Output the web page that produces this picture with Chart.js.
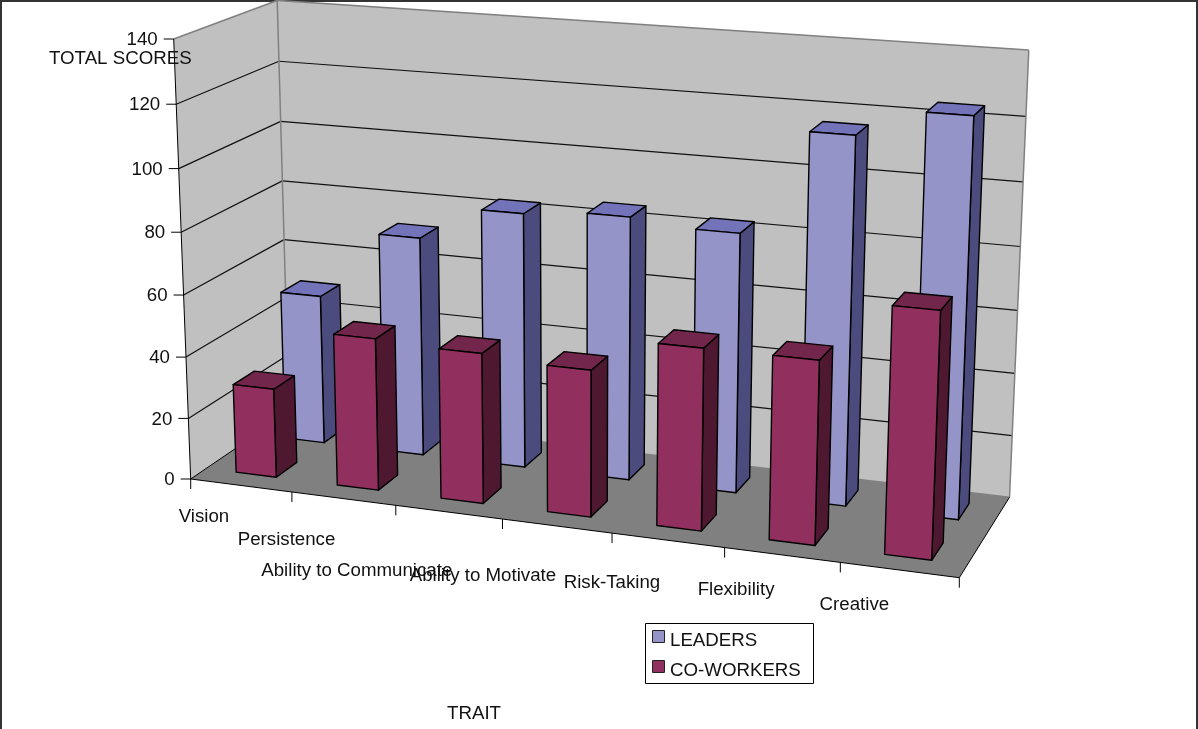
<!DOCTYPE html>
<html>
<head>
<meta charset="utf-8">
<title>Total scores by trait</title>
<script src="https://cdn.jsdelivr.net/npm/chart.js@4/dist/chart.umd.min.js"></script>
<style>
  html, body { margin: 0; padding: 0; background: #fff; }
  canvas { display: block; }
</style>
</head>
<body>
<canvas id="trait-chart" width="1198" height="729"></canvas>
<script>
const traits = ['Vision', 'Persistence', 'Ability to Communicate', 'Ability to Motivate', 'Risk-Taking', 'Flexibility', 'Creative'];
const leaders = [49.5, 72, 83, 85, 83, 116, 124.5];
const coWorkers = [29, 49, 48, 46.5, 57, 57, 75.5];
const yMax = 140;
const yStep = 20;

// Box corners on screen: origin, end of x axis, top of y axis, back of floor
const O = [190.7, 479];
const X = [959.3, 577.7];
const Y = [173.7, 39];
const Z = [289, 412];
// Perspective weights along each box axis
const PW = { x: 0.91, y: 0.958, z: 1.073 };

// Depth span of each bar row inside the box
const ROW_BACK = [0.65, 0.86];
const ROW_FRONT = [0.15, 0.36];

// Offsets of the category labels from the middle of their slot on the front edge
const LABEL_DX = [-37, -57, -92, -74, -56, -46, -45];
const LABEL_DY = [31, 41, 59, 50, 43, 35, 35];

const FONT = '18.7px "Liberation Sans", Arial, sans-serif';
const TEXT = '#111';
const WALL = '#c0c0c0';
const FLOOR = '#808080';
const EDGE = '#808080';
const BLUE = { front: '#9494c8', side: '#4b4b7d', top: '#7373ba' };
const RED = { front: '#91305f', side: '#4e1830', top: '#73264b' };

function project(x, y, z) {
    const w = 1 + x * (PW.x - 1) + y * (PW.y - 1) + z * (PW.z - 1);
    const sx = O[0] + x * (PW.x * X[0] - O[0]) + y * (PW.y * Y[0] - O[0]) + z * (PW.z * Z[0] - O[0]);
    const sy = O[1] + x * (PW.x * X[1] - O[1]) + y * (PW.y * Y[1] - O[1]) + z * (PW.z * Z[1] - O[1]);
    return [sx / w, sy / w];
}

function poly(ctx, pts, fill, stroke, lineWidth) {
    ctx.beginPath();
    pts.forEach((p, i) => i ? ctx.lineTo(p[0], p[1]) : ctx.moveTo(p[0], p[1]));
    ctx.closePath();
    if (fill) {
        ctx.fillStyle = fill;
        ctx.fill();
    }
    if (stroke) {
        ctx.strokeStyle = stroke;
        ctx.lineWidth = lineWidth;
        ctx.stroke();
    }
}

function line(ctx, a, b, color, lineWidth) {
    ctx.beginPath();
    ctx.moveTo(a[0], a[1]);
    ctx.lineTo(b[0], b[1]);
    ctx.strokeStyle = color;
    ctx.lineWidth = lineWidth;
    ctx.stroke();
}

function drawWalls(ctx, chart) {
    poly(ctx, [project(0, 0, 0), project(0, 1, 0), project(0, 1, 1), project(0, 0, 1)], WALL);
    poly(ctx, [project(0, 0, 1), project(0, 1, 1), project(1, 1, 1), project(1, 0, 1)], WALL);
    poly(ctx, [project(0, 0, 0), project(0, 0, 1), project(1, 0, 1), project(1, 0, 0)], FLOOR);

    const yScale = chart.scales.y;
    const area = chart.chartArea;
    yScale.ticks.forEach(t => {
        if (t.value === 0 || t.value === yMax) return;
        const v = (area.bottom - yScale.getPixelForValue(t.value)) / area.height;
        line(ctx, project(0, v, 0), project(0, v, 1), '#111', 1.2);
        line(ctx, project(0, v, 1), project(1, v, 1), '#111', 1.2);
    });

    line(ctx, project(0, 1, 0), project(0, 1, 1), EDGE, 1.5);
    line(ctx, project(0, 1, 1), project(1, 1, 1), EDGE, 1.5);
    line(ctx, project(0, 0, 1), project(0, 1, 1), EDGE, 1.5);
    line(ctx, project(1, 0, 1), project(1, 1, 1), EDGE, 1.5);
    line(ctx, project(0, 0, 1), project(1, 0, 1), EDGE, 1.5);
    line(ctx, project(0, 0, 0), project(0, 0, 1), '#000', 1);
    line(ctx, project(1, 0, 0), project(1, 0, 1), '#000', 1);
}

function drawAxes(ctx, chart) {
    const yScale = chart.scales.y;
    const xScale = chart.scales.x;
    const area = chart.chartArea;

    ctx.font = FONT;
    ctx.fillStyle = TEXT;

    // value axis runs up the front edge of the left wall
    line(ctx, project(0, 0, 0), project(0, 1, 0), '#000', 1);
    ctx.textAlign = 'right';
    ctx.textBaseline = 'middle';
    yScale.ticks.forEach(t => {
        const v = (area.bottom - yScale.getPixelForValue(t.value)) / area.height;
        const p = project(0, v, 0);
        line(ctx, [p[0] - 10, p[1]], p, '#000', 1);
        ctx.fillStyle = TEXT;
        ctx.fillText(t.label, p[0] - 16, p[1] + 1);
    });

    // category axis runs along the front of the floor
    line(ctx, project(0, 0, 0), project(1, 0, 0), '#000', 1);
    const step = area.width / traits.length;
    for (let i = 0; i <= traits.length; i++) {
        const p = project(i * step / area.width, 0, 0);
        line(ctx, p, [p[0], p[1] + 10], '#000', 1);
    }
    ctx.textAlign = 'center';
    ctx.textBaseline = 'middle';
    traits.forEach((name, i) => {
        const p = project((xScale.getPixelForValue(i) - area.left) / area.width, 0, 0);
        ctx.fillStyle = TEXT;
        ctx.fillText(name, p[0] + LABEL_DX[i], p[1] + LABEL_DY[i]);
    });

    ctx.textAlign = 'left';
    ctx.fillText('TOTAL SCORES', 49, 59);
    ctx.fillText('TRAIT', 447, 714);
}

// Each bar element already holds its scaled x, top and base, so they only need projecting
function drawBox(ctx, bar, area, row, colors) {
    const x0 = (bar.x - bar.width / 2 - area.left) / area.width;
    const x1 = (bar.x + bar.width / 2 - area.left) / area.width;
    const y0 = (area.bottom - bar.base) / area.height;
    const y1 = (area.bottom - bar.y) / area.height;
    const [z0, z1] = row;
    const lw = 1.4;
    poly(ctx, [project(x1, y0, z0), project(x1, y1, z0), project(x1, y1, z1), project(x1, y0, z1)], colors.side, '#000', lw);
    poly(ctx, [project(x0, y1, z0), project(x0, y1, z1), project(x1, y1, z1), project(x1, y1, z0)], colors.top, '#000', lw);
    poly(ctx, [project(x0, y0, z0), project(x0, y1, z0), project(x1, y1, z0), project(x1, y0, z0)], colors.front, '#000', lw);
}

function drawLegend(ctx, chart) {
    ctx.fillStyle = '#fff';
    ctx.fillRect(645.5, 623.5, 168, 60);
    ctx.strokeStyle = '#000';
    ctx.lineWidth = 1;
    ctx.strokeRect(645.5, 623.5, 168, 60);
    const rows = [639, 669];
    ctx.font = FONT;
    ctx.textAlign = 'left';
    ctx.textBaseline = 'middle';
    chart.data.datasets.forEach((ds, i) => {
        ctx.fillStyle = ds.backgroundColor;
        ctx.fillRect(653, rows[i] - 8, 11, 11);
        ctx.strokeStyle = '#222';
        ctx.strokeRect(652.5, rows[i] - 8.5, 12, 12);
        ctx.fillStyle = TEXT;
        ctx.fillText(ds.label, 670, rows[i] + 2);
    });
}

const boxPlugin = {
    id: 'box3d',
    beforeDatasetsDraw(chart) {
        const ctx = chart.ctx;
        const area = chart.chartArea;
        ctx.save();
        ctx.lineJoin = 'round';
        ctx.fillStyle = '#fff';
        ctx.fillRect(0, 0, chart.width, chart.height);
        ctx.strokeStyle = '#333';
        ctx.lineWidth = 4;
        ctx.strokeRect(0, 0, chart.width, chart.height + 4);

        drawWalls(ctx, chart);
        chart.getDatasetMeta(0).data.forEach(bar => drawBox(ctx, bar, area, ROW_BACK, BLUE));
        chart.getDatasetMeta(1).data.forEach(bar => drawBox(ctx, bar, area, ROW_FRONT, RED));
        drawAxes(ctx, chart);
        drawLegend(ctx, chart);
        ctx.restore();
        return false;
    }
};

new Chart(document.getElementById('trait-chart'), {
    type: 'bar',
    data: {
        labels: traits,
        datasets: [
            { label: 'LEADERS', data: leaders, backgroundColor: BLUE.front, grouped: false },
            { label: 'CO-WORKERS', data: coWorkers, backgroundColor: RED.front, grouped: false }
        ]
    },
    options: {
        responsive: false,
        animation: false,
        layout: { padding: { left: 50, right: 50, top: 50, bottom: 50 } },
        categoryPercentage: 1,
        barPercentage: 0.4,
        plugins: { legend: { display: false }, tooltip: { enabled: false } },
        scales: {
            x: { display: false, offset: true },
            y: { display: false, min: 0, max: yMax, ticks: { stepSize: yStep } }
        }
    },
    plugins: [boxPlugin]
});
</script>
</body>
</html>
